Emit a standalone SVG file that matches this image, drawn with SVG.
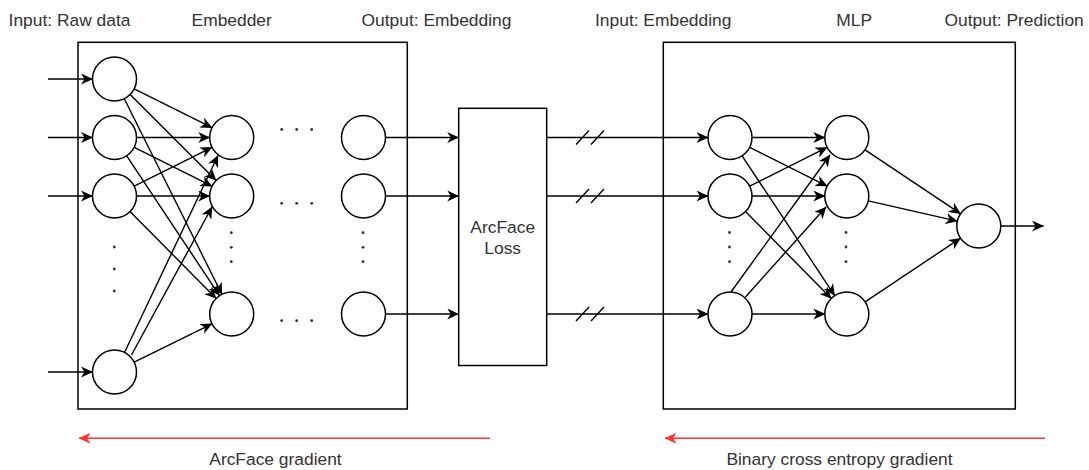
<svg xmlns="http://www.w3.org/2000/svg" width="1089" height="470" viewBox="0 0 1089 470">
<defs>
<style>
.box{fill:#fff;stroke:#000;stroke-width:1.5}
.n{fill:#fff;stroke:#000;stroke-width:1.5}
.e{fill:none;stroke:#000;stroke-width:1.4;marker-end:url(#ah)}
.p{fill:none;stroke:#000;stroke-width:1.4}
.r{fill:none;stroke:#f33;stroke-width:1.5;marker-end:url(#ahr)}
.t{font-family:"Liberation Sans",Arial,sans-serif;font-size:17.4px;fill:#333;text-anchor:middle}
.d{fill:#333}
</style>
<marker id="ah" markerUnits="userSpaceOnUse" viewBox="0 0 12 11" markerWidth="12" markerHeight="11" refX="11.5" refY="5.5" orient="auto"><path d="M0,0 L12,5.5 L0,11 L3.5,5.5 Z" fill="#000"/></marker>
<marker id="ahr" markerUnits="userSpaceOnUse" viewBox="0 0 12 11" markerWidth="12" markerHeight="11" refX="11.5" refY="5.5" orient="auto"><path d="M0,0 L12,5.5 L0,11 L3.5,5.5 Z" fill="#f33"/></marker>
</defs>
<rect width="1089" height="470" fill="#fff"/>

<g id="embedder"><rect class="box" x="78" y="42.3" width="329.3" height="366.7"/></g>
<g id="mlp"><rect class="box" x="663.3" y="42.3" width="352" height="366.7"/></g>
<g id="arcface"><rect class="box" x="458.7" y="108.3" width="88" height="257.2"/>
<text class="t" x="502.7" y="232.7">ArcFace</text><text class="t" x="502.7" y="254.3">Loss</text></g>

<g id="connectors">
<line class="e" x1="48" y1="79" x2="92.5" y2="79"/>
<line class="e" x1="48" y1="137.5" x2="92.5" y2="137.5"/>
<line class="e" x1="48" y1="196" x2="92.5" y2="196"/>
<line class="e" x1="48" y1="372" x2="92.5" y2="372"/>

<line class="e" x1="134.2" y1="88.8" x2="212" y2="127.7"/>
<line class="e" x1="130.1" y1="94.5" x2="216.1" y2="180.5"/>
<line class="e" x1="124.3" y1="98.7" x2="221.9" y2="294.3"/>
<line class="e" x1="136.5" y1="137.5" x2="209.7" y2="137.5"/>
<line class="e" x1="134.2" y1="147.3" x2="212" y2="186.2"/>
<line class="e" x1="126.7" y1="155.8" x2="219.5" y2="295.7"/>
<line class="e" x1="134.2" y1="186.2" x2="212" y2="147.3"/>
<line class="e" x1="136.5" y1="196" x2="209.7" y2="196"/>
<line class="e" x1="130" y1="211.6" x2="216.2" y2="298.4"/>
<line class="e" x1="124.5" y1="352.5" x2="218" y2="155.5"/>
<line class="e" x1="131.5" y1="355" x2="212" y2="207"/>
<line class="e" x1="134.2" y1="362.2" x2="212" y2="323.8"/>

<line class="e" x1="385.5" y1="137.5" x2="458.7" y2="137.5"/>
<line class="e" x1="385.5" y1="196" x2="458.7" y2="196"/>
<line class="e" x1="385.5" y1="314" x2="458.7" y2="314"/>

<line class="e" x1="546.7" y1="137.5" x2="708" y2="137.5"/>
<line class="e" x1="546.7" y1="196" x2="708" y2="196"/>
<line class="e" x1="546.7" y1="314" x2="708" y2="314"/>
<path class="p" d="M576,144.5 L589,130.5 M591,144.5 L604,130.5 M576,203 L589,189 M591,203 L604,189 M576,321 L589,307 M591,321 L604,307"/>

<line class="e" x1="752" y1="137.5" x2="824.8" y2="137.5"/>
<line class="e" x1="749.7" y1="147.4" x2="827.1" y2="186.1"/>
<line class="e" x1="742.1" y1="155.8" x2="834.7" y2="295.6"/>
<line class="e" x1="749.7" y1="186.1" x2="827.1" y2="147.4"/>
<line class="e" x1="752" y1="196" x2="824.8" y2="196"/>
<line class="e" x1="745.5" y1="211.6" x2="831.3" y2="298.4"/>
<line class="e" x1="731" y1="292" x2="830" y2="155"/>
<line class="e" x1="745.5" y1="297" x2="826" y2="207"/>
<line class="e" x1="752" y1="314" x2="824.8" y2="314"/>

<line class="e" x1="865.1" y1="149.8" x2="960.5" y2="213.7"/>
<line class="e" x1="868.3" y1="200.9" x2="957.3" y2="221.1"/>
<line class="e" x1="865.1" y1="301.8" x2="960.5" y2="238.2"/>
<line class="e" x1="1000.8" y1="226" x2="1043.5" y2="226"/>

<line class="r" x1="490" y1="438.3" x2="79" y2="438.3"/>
<line class="r" x1="1045" y1="438.3" x2="665" y2="438.3"/>
</g>

<g id="in1"><circle class="n" cx="114.5" cy="79" r="22"/></g>
<g id="in2"><circle class="n" cx="114.5" cy="137.5" r="22"/></g>
<g id="in3"><circle class="n" cx="114.5" cy="196" r="22"/></g>
<g id="in4"><circle class="n" cx="114.5" cy="372" r="22"/></g>
<g id="h1"><circle class="n" cx="231.7" cy="137.5" r="22"/></g>
<g id="h2"><circle class="n" cx="231.7" cy="196" r="22"/></g>
<g id="h3"><circle class="n" cx="231.7" cy="314" r="22"/></g>
<g id="o1"><circle class="n" cx="363.5" cy="137.5" r="22"/></g>
<g id="o2"><circle class="n" cx="363.5" cy="196" r="22"/></g>
<g id="o3"><circle class="n" cx="363.5" cy="314" r="22"/></g>
<g id="m_in1"><circle class="n" cx="730" cy="137.5" r="22"/></g>
<g id="m_in2"><circle class="n" cx="730" cy="196" r="22"/></g>
<g id="m_in3"><circle class="n" cx="730" cy="314" r="22"/></g>
<g id="m_h1"><circle class="n" cx="846.8" cy="137.5" r="22"/></g>
<g id="m_h2"><circle class="n" cx="846.8" cy="196" r="22"/></g>
<g id="m_h3"><circle class="n" cx="846.8" cy="314" r="22"/></g>
<g id="pred"><circle class="n" cx="978.8" cy="226" r="22"/></g>

<g id="ellipses" class="d">
<circle cx="114.3" cy="247" r="1.4"/><circle cx="114.3" cy="269" r="1.4"/><circle cx="114.3" cy="291" r="1.4"/>
<circle cx="231.3" cy="232.7" r="1.4"/><circle cx="231.3" cy="247.3" r="1.4"/><circle cx="231.3" cy="261.7" r="1.4"/>
<circle cx="363" cy="232.7" r="1.4"/><circle cx="363" cy="247.3" r="1.4"/><circle cx="363" cy="261.7" r="1.4"/>
<circle cx="729.5" cy="232.5" r="1.4"/><circle cx="729.5" cy="247" r="1.4"/><circle cx="729.5" cy="261.7" r="1.4"/>
<circle cx="846" cy="232.5" r="1.4"/><circle cx="846" cy="247" r="1.4"/><circle cx="846" cy="261.7" r="1.4"/>
<circle cx="281.7" cy="129.5" r="1.4"/><circle cx="296.7" cy="129.5" r="1.4"/><circle cx="311.7" cy="129.5" r="1.4"/>
<circle cx="281.7" cy="203.3" r="1.4"/><circle cx="296.7" cy="203.3" r="1.4"/><circle cx="311.7" cy="203.3" r="1.4"/>
<circle cx="281.7" cy="320.7" r="1.4"/><circle cx="296.7" cy="320.7" r="1.4"/><circle cx="311.7" cy="320.7" r="1.4"/>
</g>

<g id="labels">
<text class="t" x="69.5" y="26">Input: Raw data</text>
<text class="t" x="231.7" y="26">Embedder</text>
<text class="t" x="436.5" y="26">Output: Embedding</text>
<text class="t" x="663.2" y="26">Input: Embedding</text>
<text class="t" x="854.2" y="26">MLP</text>
<text class="t" x="1014.2" y="26">Output: Prediction</text>
<text class="t" x="275.5" y="465">ArcFace gradient</text>
<text class="t" x="839.5" y="465">Binary cross entropy gradient</text>
</g>
</svg>
